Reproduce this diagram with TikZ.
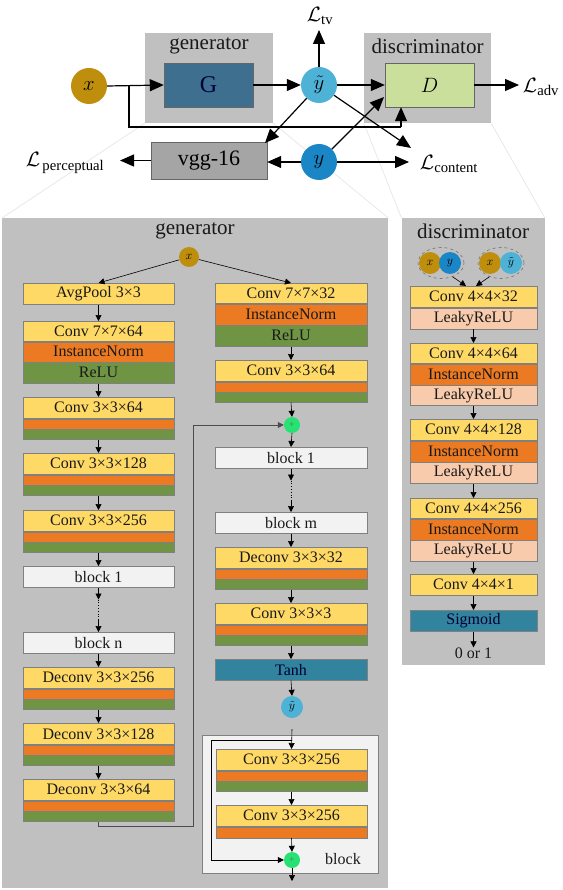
\documentclass[tikz,border=0pt]{standalone}
\usepackage{fontspec}
\setmainfont{Liberation Serif}
\usetikzlibrary{arrows.meta,calc,shapes.geometric}
\definecolor{cYel}{HTML}{FFD966}
\definecolor{cOrg}{HTML}{EC7A22}
\definecolor{cGrn}{HTML}{6F9443}
\definecolor{cPch}{HTML}{F8CBAD}
\definecolor{cTeal}{HTML}{31839E}
\definecolor{cPanel}{HTML}{C0C0C0}
\definecolor{cBlock}{HTML}{F2F2F2}
\definecolor{cX}{HTML}{BE8E0C}
\definecolor{cYt}{HTML}{4DB2D6}
\definecolor{cY}{HTML}{1A86C6}
\definecolor{cG}{HTML}{3F6F8E}
\definecolor{cD}{HTML}{CADF9C}
\definecolor{cVgg}{HTML}{A5A5A5}
\definecolor{cPlus}{HTML}{25E272}
\newcommand\boxfont{\fontsize{16}{19}\selectfont}
\newcommand\titlefont{\fontsize{21}{24}\selectfont}
\newcommand\convthin[5]{%
 \node[yel,#4,anchor=north,minimum height=21] (#1y) at (#2,#3) {#5};
 \node[org,#4,anchor=north,minimum height=10] (#1o) at (#1y.south) {};
 \node[grn,#4,anchor=north,minimum height=10] (#1g) at (#1o.south) {};}
\begin{document}
\begin{tikzpicture}[x=1pt,y=-1pt,
 lay/.style={draw=black!50, line width=0.5pt, inner sep=0pt, font=\boxfont, text=black!90},
 yel/.style={lay, fill=cYel},
 org/.style={lay, fill=cOrg},
 grn/.style={lay, fill=cGrn},
 pch/.style={lay, fill=cPch},
 teal/.style={lay, fill=cTeal, text=black!80!blue},
 blk/.style={lay, fill=cBlock},
 lw/.style={minimum width=151},
 rw/.style={minimum width=152},
 dw/.style={minimum width=127},
 panel/.style={fill=cPanel, inner sep=0pt, anchor=north west},
 circ/.style={circle, inner sep=0pt},
 sarr/.style={-{Triangle[length=6pt,width=6pt]}, line width=0.6pt},
 barr/.style={-{Triangle[length=14pt,width=12pt]}, line width=1.2pt},
 skipl/.style={line width=0.8pt, draw=black!70},
 plusc/.style={circle, fill=cPlus, minimum size=16, inner sep=0pt, font=\fontsize{9}{9}\selectfont, text=black!60},
 lbl/.style={inner sep=0pt, font=\titlefont},
]
\useasboundingbox (0,0) rectangle (562,890);

% ---------- panels (behind) ----------
\node[panel, minimum width=386, minimum height=670] (gp) at (2,218) {};
\node[panel, minimum width=143, minimum height=447] (dp) at (401.5,218) {};
\node[panel, minimum width=128, minimum height=90, anchor=center] (gbox) at (209,78) {};
\node[panel, minimum width=127, minimum height=90, anchor=center] (dbox) at (427.5,78) {};
\draw[black!9, line width=0.8pt] (gbox.south west) -- (gp.north west);
\draw[black!9, line width=0.8pt] (gbox.south east) -- (gp.north east);
\draw[black!9, line width=0.8pt] (dbox.south west) -- (dp.north west);
\draw[black!9, line width=0.8pt] (dbox.south east) -- (dp.north east);

% ---------- top overview ----------
\node[lbl, text=black!90] (gtitle) at (209,46) {generator};
\node[lbl, text=black!90] (dtitle) at (427.5,46) {discriminator};
\node[draw=black!60, fill=cG, minimum width=89, minimum height=44, inner sep=0pt,
      font=\fontsize{24}{26}\selectfont, text=black!75!blue] (G) at (208.5,85) {G};
\node[draw=black!60, fill=cD, minimum width=89, minimum height=44, inner sep=0pt,
      font=\fontsize{22}{24}\selectfont] (D) at (429.5,85) {$D$};
\node[circ, fill=cX, minimum size=36, font=\fontsize{22}{24}\selectfont] (x) at (89,86) {$x$};
\node[circ, fill=cYt, minimum size=36, font=\fontsize{22}{24}\selectfont] (yt) at (319,85) {$\tilde{y}$};
\node[circ, fill=cY, minimum size=36, font=\fontsize{22}{24}\selectfont] (y) at (319,162) {$y$};
\node[draw=black!60, fill=cVgg, minimum width=116, minimum height=37, inner sep=0pt,
      font=\fontsize{22}{24}\selectfont] (vgg) at (209,160.5) {vgg-16};
\node[lbl] (Ltv) at (320,16) {$\mathcal{L}_{\mathrm{tv}}$};
\node[lbl] (Ladv) at (541,87) {$\mathcal{L}_{\mathrm{adv}}$};
\node[lbl] (Lcon) at (449,164) {$\mathcal{L}_{\mathrm{content}}$};
\node[lbl] (Lper) at (65,163) {$\mathcal{L}_{\,\mathrm{perceptual}}$};

\coordinate (br) at (129,85);
\coordinate (brc) at (401,127);
\coordinate (tvtip) at (319,30);
\coordinate (advtip) at (519,85);
\coordinate (contip) at (411,148);
\coordinate (contip2) at (409,162);
\coordinate (vgtip) at (265,143);
\coordinate (dtip) at (384,97);
\coordinate (pertip) at (120,160.5);

\draw[barr] (x.east) -- (G.west);
\draw[line width=1.2pt] (br) |- (brc);
\draw[barr] (brc) -- (brc |- D.south);
\draw[barr] (G.east) -- (yt.west);
\draw[barr] (yt.north) -- (tvtip);
\draw[barr] (yt.east) -- (D.west);
\draw[barr] (yt) -- (contip);
\draw[barr] (yt) -- (vgtip);
\draw[barr] (y.west) -- (y.west -| vgg.east);
\draw[barr] (y.east) -- (contip2);
\draw[barr] (y) -- (dtip);
\draw[barr] (D.east) -- (advtip);
\draw[barr] (vgg.west) -- (pertip);

% ---------- generator panel ----------
\node[lbl, text=black!90] (gptitle) at (195,231) {generator};
\node[circ, fill=cX, minimum size=20, font=\fontsize{13}{13}\selectfont] (gx) at (189,257) {$x$};

% left column
\node[yel,lw,anchor=north,minimum height=21] (a1) at (98.5,283) {AvgPool 3×3};
\node[yel,lw,anchor=north,minimum height=20] (a2y) at (98.5,321) {Conv 7×7×64};
\node[org,lw,anchor=north,minimum height=20] (a2o) at (a2y.south) {InstanceNorm};
\node[grn,lw,anchor=north,minimum height=21] (a2g) at (a2o.south) {ReLU};
\convthin{a3}{98.5}{397}{lw}{Conv 3×3×64}
\convthin{a4}{98.5}{453}{lw}{Conv 3×3×128}
\convthin{a5}{98.5}{510}{lw}{Conv 3×3×256}
\node[blk,lw,anchor=north,minimum height=21] (ab1) at (98.5,566) {block 1};
\node[blk,lw,anchor=north,minimum height=21] (abn) at (98.5,632) {block n};
\convthin{a6}{98.5}{667}{lw}{Deconv 3×3×256}
\convthin{a7}{98.5}{723}{lw}{Deconv 3×3×128}
\convthin{a8}{98.5}{779}{lw}{Deconv 3×3×64}

\draw[sarr] (gx) -- (a1.north);
\draw[sarr] (a1.south) -- (a2y.north);
\draw[sarr] (a2g.south) -- (a3y.north);
\draw[sarr] (a3g.south) -- (a4y.north);
\draw[sarr] (a4g.south) -- (a5y.north);
\draw[sarr] (a5g.south) -- (ab1.north);
\coordinate (ad1) at ($(ab1.south)+(0,12)$);
\coordinate (ad2) at ($(abn.north)+(0,-12)$);
\draw[sarr] (ab1.south) -- (ad1);
\draw[line width=0.8pt, dotted] (ad1) -- (ad2);
\draw[sarr] (ad2) -- (abn.north);
\draw[sarr] (abn.south) -- (a6y.north);
\draw[sarr] (a6g.south) -- (a7y.north);
\draw[sarr] (a7g.south) -- (a8y.north);

% right column
\node[yel,rw,anchor=north,minimum height=20] (b1y) at (291,283) {Conv 7×7×32};
\node[org,rw,anchor=north,minimum height=21] (b1o) at (b1y.south) {InstanceNorm};
\node[grn,rw,anchor=north,minimum height=21] (b1g) at (b1o.south) {ReLU};
\convthin{b2}{291}{360}{rw}{Conv 3×3×64}
\node[plusc] (p1) at (292,425) {+};
\node[blk,rw,anchor=north,minimum height=21] (bb1) at (291,447) {block 1};
\node[blk,rw,anchor=north,minimum height=21] (bbm) at (291,512) {block m};
\convthin{b3}{291}{547}{rw}{Deconv 3×3×32}
\convthin{b4}{291}{603}{rw}{Conv 3×3×3}
\node[teal,rw,anchor=north,minimum height=21] (bt) at (291,659) {Tanh};
\node[circ, fill=cYt, minimum size=22, font=\fontsize{13}{13}\selectfont] (gyt) at (292,707) {$\tilde{y}$};

\draw[sarr] (gx) -- (b1y.north);
\draw[sarr] (b1g.south) -- (b2y.north);
\draw[sarr] (b2g.south) -- (p1.north);
\draw[sarr] (p1.south) -- (bb1.north);
\coordinate (bd1) at ($(bb1.south)+(0,12)$);
\coordinate (bd2) at ($(bbm.north)+(0,-12)$);
\draw[sarr] (bb1.south) -- (bd1);
\draw[line width=0.8pt, dotted] (bd1) -- (bd2);
\draw[sarr] (bd2) -- (bbm.north);
\draw[sarr] (bbm.south) -- (b3y.north);
\draw[sarr] (b3g.south) -- (b4y.north);
\draw[sarr] (b4g.south) -- (bt.north);
\draw[sarr] (bt.south) -- (gyt.north);

% long skip
\coordinate (sk1) at (98.5,826);
\coordinate (sk2) at (193,826);
\coordinate (sk3) at (193,425);
\draw[skipl] (a8g.south) -- (sk1) -- (sk2) -- (sk3);
\draw[skipl, -{Triangle[length=6pt,width=6pt]}] (sk3) -- (p1.west);

% residual block detail
\node[blk, minimum width=176, minimum height=138, anchor=north west] (frame) at (202,735) {};
\node[inner sep=0pt, font=\boxfont, text=black!90] (blab) at (343,859) {block};
\coordinate (rin) at (292,729);
\coordinate (rsplit) at (292,740);
\convthin{c1}{291.5}{749}{lw}{Conv 3×3×256}
\node[yel,lw,anchor=north,minimum height=21] (c2y) at (291.5,805) {Conv 3×3×256};
\node[org,lw,anchor=north,minimum height=11] (c2o) at (c2y.south) {};
\node[plusc] (p2) at (292,860) {+};
\coordinate (rout) at (292,881);
\coordinate (rs1) at (211,740);
\coordinate (rs2) at (211,860);
\draw[sarr] (rin) -- (c1y.north);
\draw[sarr] (c1g.south) -- (c2y.north);
\draw[sarr] (c2o.south) -- (p2.north);
\draw[sarr] (p2.south) -- (rout);
\draw[line width=0.6pt] (rsplit) -- (rs1) -- (rs2);
\draw[sarr] (rs2) -- (p2.west);

% ---------- discriminator panel ----------
\node[lbl, text=black!90] (dptitle) at (473,231) {discriminator};
\node[ellipse, draw=black!55, dashed, line width=0.6pt, minimum width=46, minimum height=31, inner sep=0pt] (e1) at (441,263) {};
\node[ellipse, draw=black!55, dashed, line width=0.6pt, minimum width=46, minimum height=31, inner sep=0pt] (e2) at (501,263) {};
\node[circ, fill=cX, minimum size=22, font=\fontsize{13}{13}\selectfont] (ex1) at (430,263) {$x$};
\node[circ, fill=cY, minimum size=22, font=\fontsize{13}{13}\selectfont] (ey) at (450,263) {$y$};
\node[circ, fill=cX, minimum size=22, font=\fontsize{13}{13}\selectfont] (ex2) at (490,263) {$x$};
\node[circ, fill=cYt, minimum size=22, font=\fontsize{13}{13}\selectfont] (eyt) at (511,263) {$\tilde{y}$};

\node[yel,dw,anchor=north,minimum height=21] (d1y) at (473.5,286) {Conv 4×4×32};
\node[pch,dw,anchor=north,minimum height=21] (d1p) at (d1y.south) {LeakyReLU};
\node[yel,dw,anchor=north,minimum height=20] (d2y) at (473.5,343) {Conv 4×4×64};
\node[org,dw,anchor=north,minimum height=21] (d2o) at (d2y.south) {InstanceNorm};
\node[pch,dw,anchor=north,minimum height=20] (d2p) at (d2o.south) {LeakyReLU};
\node[yel,dw,anchor=north,minimum height=21] (d3y) at (473.5,419) {Conv 4×4×128};
\node[org,dw,anchor=north,minimum height=21] (d3o) at (d3y.south) {InstanceNorm};
\node[pch,dw,anchor=north,minimum height=21] (d3p) at (d3o.south) {LeakyReLU};
\node[yel,dw,anchor=north,minimum height=20] (d4y) at (473.5,498) {Conv 4×4×256};
\node[org,dw,anchor=north,minimum height=21] (d4o) at (d4y.south) {InstanceNorm};
\node[pch,dw,anchor=north,minimum height=21] (d4p) at (d4o.south) {LeakyReLU};
\node[yel,dw,anchor=north,minimum height=21] (d5) at (473.5,574) {Conv 4×4×1};
\node[teal,dw,anchor=north,minimum height=21] (d6) at (473.5,610) {Sigmoid};
\node[inner sep=0pt, font=\boxfont, text=black!90] (dout) at (473.5,653) {0 or 1};

\coordinate (et1) at (466,286);
\coordinate (et2) at (476,286);
\draw[sarr] (e1.-50) -- (et1);
\draw[sarr] (e2.-130) -- (et2);
\draw[sarr] (d1p.south) -- (d2y.north);
\draw[sarr] (d2p.south) -- (d3y.north);
\draw[sarr] (d3p.south) -- (d4y.north);
\draw[sarr] (d4p.south) -- (d5.north);
\draw[sarr] (d5.south) -- (d6.north);
\draw[sarr] (d6.south) -- (dout.north);
\end{tikzpicture}
\end{document}
